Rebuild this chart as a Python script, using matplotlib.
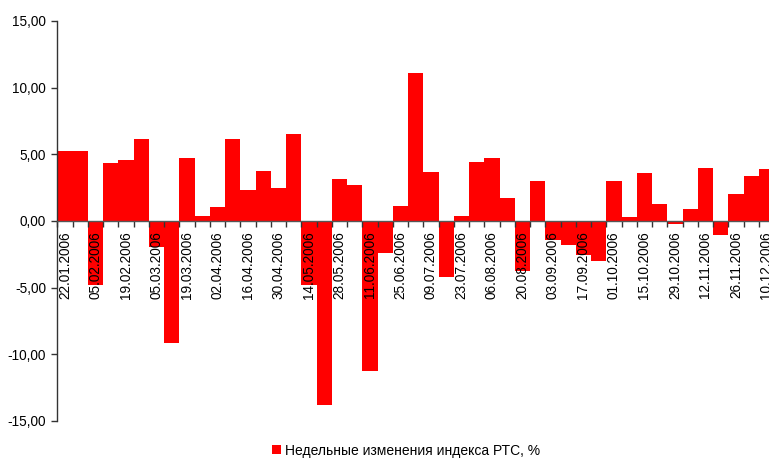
import matplotlib
matplotlib.use("Agg")
import matplotlib.pyplot as plt
import numpy as np
from matplotlib.ticker import FuncFormatter

weeks = ["22.01.2006", "29.01.2006", "05.02.2006", "12.02.2006", "19.02.2006", "26.02.2006",
         "05.03.2006", "12.03.2006", "19.03.2006", "26.03.2006", "02.04.2006", "09.04.2006",
         "16.04.2006", "23.04.2006", "30.04.2006", "07.05.2006", "14.05.2006", "21.05.2006",
         "28.05.2006", "04.06.2006", "11.06.2006", "18.06.2006", "25.06.2006", "02.07.2006",
         "09.07.2006", "16.07.2006", "23.07.2006", "30.07.2006", "06.08.2006", "13.08.2006",
         "20.08.2006", "27.08.2006", "03.09.2006", "10.09.2006", "17.09.2006", "24.09.2006",
         "01.10.2006", "08.10.2006", "15.10.2006", "22.10.2006", "29.10.2006", "05.11.2006",
         "12.11.2006", "19.11.2006", "26.11.2006", "03.12.2006", "10.12.2006"]

changes = [5.25, 5.25, -4.78, 4.35, 4.58, 6.15, -1.93, -9.13, 4.73, 0.38, 1.05, 6.15,
           2.33, 3.75, 2.48, 6.53, -4.80, -13.78, 3.15, 2.70, -11.23, -2.38, 1.13, 11.10,
           3.68, -4.18, 0.38, 4.43, 4.73, 1.73, -3.73, 3.00, -1.40, -1.78, -2.53, -2.98,
           3.00, 0.30, 3.60, 1.28, -0.23, 0.90, 3.98, -1.03, 2.03, 3.38, 3.90]

series_label = "Недельные изменения индекса РТС, %"
y_ticks = [-15, -10, -5, 0, 5, 10, 15]

plt.rcParams['font.family'] = ['Liberation Sans', 'DejaVu Sans']
FS = 9.8

W, H = 769, 458
fig = plt.figure(figsize=(W / 100, H / 100), dpi=100)
x0, x1 = 57.3, 774.0
ytop, ybot = 21.0, 421.0
ax = fig.add_axes([x0 / W, (H - ybot) / H, (x1 - x0) / W, (ybot - ytop) / H])

n = len(changes)
xs = np.arange(n)
ax.bar(xs, changes, width=1.0, align='edge', color='#FF0000', linewidth=0,
       label=series_label, zorder=1)

ax.set_xlim(0, n)
ax.set_ylim(-15, 15)

for s in ['top', 'right']:
    ax.spines[s].set_visible(False)
ax.spines['bottom'].set_position(('data', 0))
ax.spines['bottom'].set_color('#555555')
ax.spines['bottom'].set_linewidth(1.0)
ax.spines['left'].set_color('#333333')
ax.spines['left'].set_linewidth(1.0)

# bar boundaries as major ticks
ax.set_xticks(np.arange(n + 1))
ax.set_xticklabels([])
ax.tick_params(axis='x', which='major', direction='out', length=4, width=1, color='#333333')
# labels every second week at bar centres
lab_pos = xs[::2] + 0.5
ax.set_xticks(lab_pos, minor=True)
ax.set_xticklabels(weeks[::2], minor=True, rotation=90, fontsize=FS, va='top')
ax.tick_params(axis='x', which='minor', length=0, pad=7.2)

ax.set_yticks(y_ticks)
ax.yaxis.set_major_formatter(FuncFormatter(lambda v, p: f"{v:.2f}".replace('.', ',')))
ax.tick_params(axis='y', direction='out', length=4, width=1, color='#333333',
               labelsize=FS, pad=4)

leg = fig.legend(loc='center', bbox_to_anchor=(406 / W, 7.5 / H), frameon=False,
                 fontsize=10.0, handlelength=0.6, handleheight=0.6, handletextpad=0.3,
                 borderpad=0, borderaxespad=0)

fig.savefig("out.png", dpi=100)
